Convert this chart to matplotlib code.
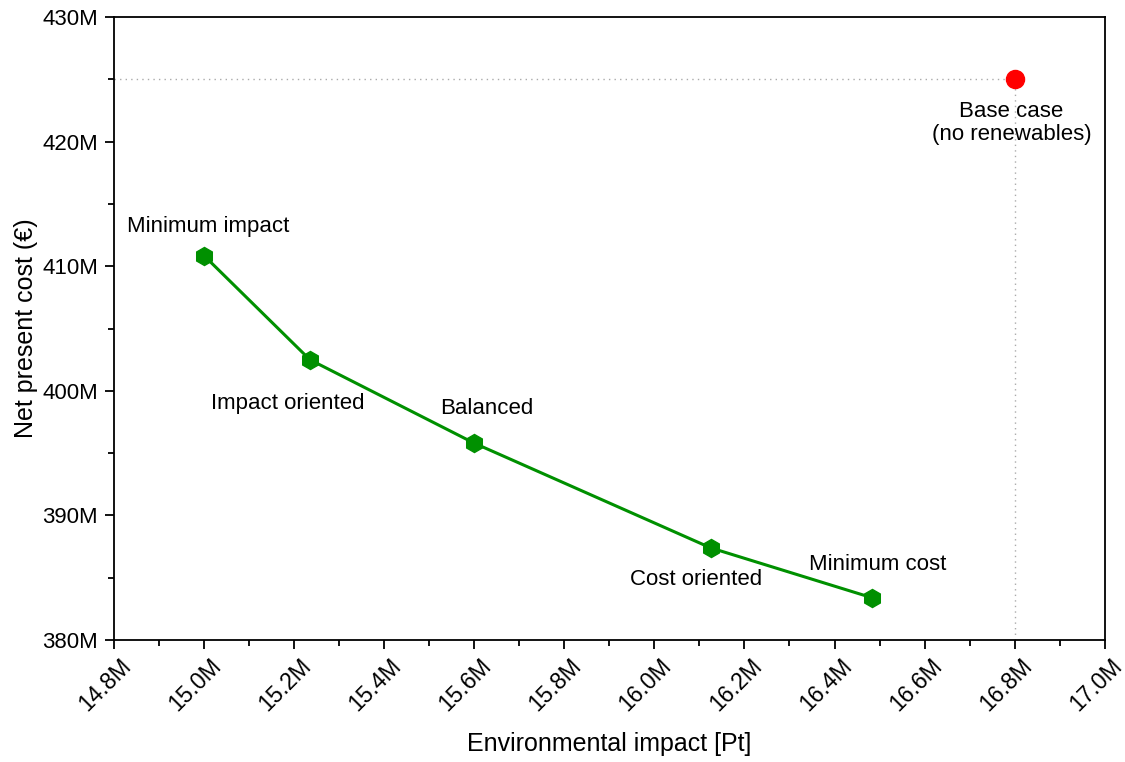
import matplotlib
matplotlib.use("Agg")
import matplotlib.pyplot as plt
from matplotlib.ticker import FuncFormatter, MultipleLocator
from matplotlib.transforms import ScaledTranslation

plt.rcParams['font.family'] = ['Liberation Sans', 'DejaVu Sans']

impact = [15.00e6, 15.235e6, 15.60e6, 16.125e6, 16.483e6]
cost = [410.85e6, 402.5e6, 395.8e6, 387.4e6, 383.4e6]
labels = ["Minimum impact", "Impact oriented", "Balanced", "Cost oriented", "Minimum cost"]
label_pos = [(15.009e6, 413.2e6), (15.186e6, 399.0e6), (15.628e6, 398.6e6),
             (16.092e6, 384.9e6), (16.496e6, 386.1e6)]
base_impact = 16.80e6
base_cost = 425.0e6
base_label = "Base case\n(no renewables)"

fig = plt.figure(figsize=(11.25, 7.62), dpi=100)
ax = fig.add_axes([0.1013, 0.160, 0.8807, 0.8177])

ax.set_xlim(14.8e6, 17.0e6)
ax.set_ylim(380e6, 430e6)

ax.plot([14.8e6, base_impact], [base_cost, base_cost], ls=(0, (1, 3)), color='#aaaaaa', lw=1)
ax.plot([base_impact, base_impact], [380e6, base_cost], ls=(0, (1, 3)), color='#aaaaaa', lw=1)

ax.plot(impact, cost, color='#009000', lw=2.2, marker='h', ms=13, mfc='#009000', mec='#009000', zorder=3)
ax.plot([base_impact], [base_cost], 'o', color='#ff0000', ms=13, zorder=3)

for lab, (x, y) in zip(labels, label_pos):
    ax.text(x, y, lab, ha='center', va='center', fontsize=16)
ax.text(16.793e6, 421.5e6, base_label, ha='center', va='center', fontsize=16, linespacing=1.15)

ax.xaxis.set_major_formatter(FuncFormatter(lambda v, p: f"{v/1e6:.1f}M"))
ax.yaxis.set_major_formatter(FuncFormatter(lambda v, p: f"{v/1e6:.0f}M"))
ax.xaxis.set_major_locator(MultipleLocator(0.2e6))
ax.xaxis.set_minor_locator(MultipleLocator(0.1e6))
ax.yaxis.set_major_locator(MultipleLocator(10e6))
ax.yaxis.set_minor_locator(MultipleLocator(5e6))
ax.tick_params(which='major', direction='out', length=6.5, width=1.3, labelsize=16)
ax.tick_params(axis='x', which='major', labelsize=16.5)
ax.tick_params(axis='y', which='major', pad=5)
ax.tick_params(which='minor', direction='out', length=4, width=1.3)
offset = ScaledTranslation(4/72, 0, fig.dpi_scale_trans)
for lab in ax.get_xticklabels():
    lab.set_rotation(45)
    lab.set_ha('right')
    lab.set_va('top')
    lab.set_rotation_mode('anchor')
    lab.set_transform(lab.get_transform() + offset)
for s in ax.spines.values():
    s.set_linewidth(1.3)

ax.set_xlabel("Environmental impact [Pt]", fontsize=18, labelpad=12)
ax.set_ylabel("Net present cost (€)", fontsize=18, labelpad=3)

fig.savefig("out.png", dpi=100)
